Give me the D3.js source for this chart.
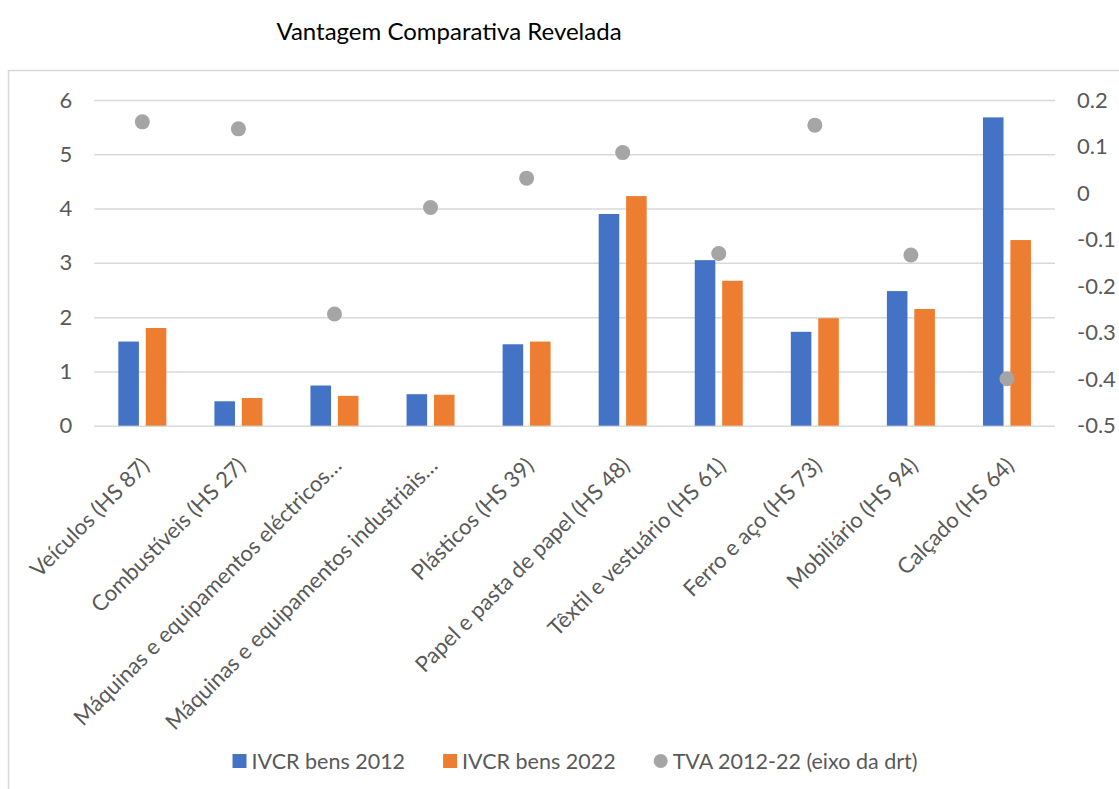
<!DOCTYPE html>
<html>
<head>
<meta charset="utf-8">
<script src="https://cdn.jsdelivr.net/npm/d3@7"></script>
<style>
  body { margin: 0; background: #fff; }
  svg { display: block; font-family: Lato, "Liberation Sans", sans-serif; }
</style>
</head>
<body>
<svg id="chart"></svg>
<script>
// data
const categories = [
  "Veículos (HS 87)",
  "Combustíveis (HS 27)",
  "Máquinas e equipamentos eléctricos…",
  "Máquinas e equipamentos industriais…",
  "Plásticos (HS 39)",
  "Papel e pasta de papel (HS 48)",
  "Têxtil e vestuário (HS 61)",
  "Ferro e aço (HS 73)",
  "Mobiliário (HS 94)",
  "Calçado (HS 64)"
];
const ivcr2012 = [1.55, 0.45, 0.74, 0.58, 1.50, 3.90, 3.05, 1.73, 2.48, 5.68];
const ivcr2022 = [1.80, 0.51, 0.55, 0.57, 1.55, 4.23, 2.67, 1.98, 2.15, 3.42];
const tva = [0.153, 0.138, -0.26, -0.031, 0.032, 0.087, -0.13, 0.146, -0.133, -0.399];
const seriesNames = ["IVCR bens 2012", "IVCR bens 2022", "TVA 2012-22 (eixo da drt)"];
const leftTicks = [0, 1, 2, 3, 4, 5, 6];
const rightTicks = [0.2, 0.1, 0, -0.1, -0.2, -0.3, -0.4, -0.5];

const W = 1119, H = 789;
const margin = {top: 100, left: 94.3, right: 64, bottom: 363.3};
const colors = ["#4472C4", "#ED7D31", "#A5A5A5"];
const fs = 22;

const svg = d3.select("#chart").attr("width", W).attr("height", H);

// outer frame
svg.append("rect")
  .attr("x", 8.5).attr("y", 70.5)
  .attr("width", W + 20).attr("height", H)
  .attr("fill", "none").attr("stroke", "#d9d9d9").attr("stroke-width", 1.5);

svg.append("text")
  .attr("x", 449).attr("y", 40)
  .attr("text-anchor", "middle")
  .attr("font-size", 24)
  .attr("fill", "#000")
  .text("Vantagem Comparativa Revelada");

const x = d3.scaleBand().domain(categories).range([margin.left, W - margin.right]);
const x1 = d3.scaleBand().domain([0, 1]).range([0, 48]).paddingInner(0.25);
const y = d3.scaleLinear().domain([0, 6]).range([H - margin.bottom, margin.top]);
const y2 = d3.scaleLinear().domain([-0.5, 0.2]).range([H - margin.bottom, margin.top]);

// left axis + gridlines
const gy = svg.append("g")
  .attr("transform", `translate(${margin.left},0)`)
  .call(d3.axisLeft(y).tickValues(leftTicks).tickFormat(d => String(d))
    .tickSize(-(W - margin.right - margin.left)).tickPadding(22));
gy.select(".domain").remove();
gy.selectAll("line").attr("stroke", "#d9d9d9").attr("stroke-width", 1.5);
gy.selectAll("text").attr("fill", "#595959").attr("font-size", fs).attr("font-family", "Lato");

// right axis
const gy2 = svg.append("g")
  .attr("transform", `translate(${W - margin.right},0)`)
  .call(d3.axisRight(y2).tickValues(rightTicks).tickSize(0).tickPadding(22)
    .tickFormat(d => String(+d.toFixed(1))));
gy2.select(".domain").remove();
gy2.selectAll("text").attr("fill", "#595959").attr("font-size", fs).attr("font-family", "Lato");

// bars
const barData = [ivcr2012, ivcr2022];
barData.forEach((vals, s) => {
  svg.append("g").selectAll("rect")
    .data(vals)
    .join("rect")
    .attr("x", (d, i) => x(categories[i]) + (x.bandwidth() - 48) / 2 + x1(s))
    .attr("y", d => y(d))
    .attr("width", x1.bandwidth())
    .attr("height", d => y(0) - y(d))
    .attr("fill", colors[s]);
});

// TVA dots on secondary axis
svg.append("g").selectAll("circle")
  .data(tva)
  .join("circle")
  .attr("cx", (d, i) => x(categories[i]) + x.bandwidth() / 2)
  .attr("cy", d => y2(d))
  .attr("r", 7.5)
  .attr("fill", colors[2]);

// category labels rotated
svg.append("g").selectAll("text")
  .data(categories)
  .join("text")
  .attr("transform", d => `translate(${x(d) + x.bandwidth() / 2 + 3},${y(0) + 36}) rotate(-45)`)
  .attr("text-anchor", "end")
  .attr("dy", "0.35em")
  .attr("font-size", fs)
  .attr("fill", "#595959")
  .text(d => d);

// legend
const legend = svg.append("g").attr("transform", "translate(0,761)");
const items = legend.selectAll("g")
  .data(seriesNames)
  .join("g");
items.append("text")
  .attr("x", 19)
  .attr("dy", "0.35em")
  .attr("font-size", 21.5)
  .attr("fill", "#595959")
  .text(d => d);
items.each(function(d, i) {
  const g = d3.select(this);
  if (i < 2) {
    g.append("rect").attr("x", 0).attr("y", -7).attr("width", 14).attr("height", 14).attr("fill", colors[i]);
  } else {
    g.append("circle").attr("cx", 7).attr("cy", 0).attr("r", 7).attr("fill", colors[i]);
  }
});
const widths = [];
items.each(function() { widths.push(this.getBBox().width); });
const gap = 38;
const total = d3.sum(widths) + gap * (widths.length - 1);
let cur = 575 - total / 2;
items.attr("transform", (d, i) => {
  const t = `translate(${cur},0)`;
  cur += widths[i] + gap;
  return t;
});
</script>
</body>
</html>
